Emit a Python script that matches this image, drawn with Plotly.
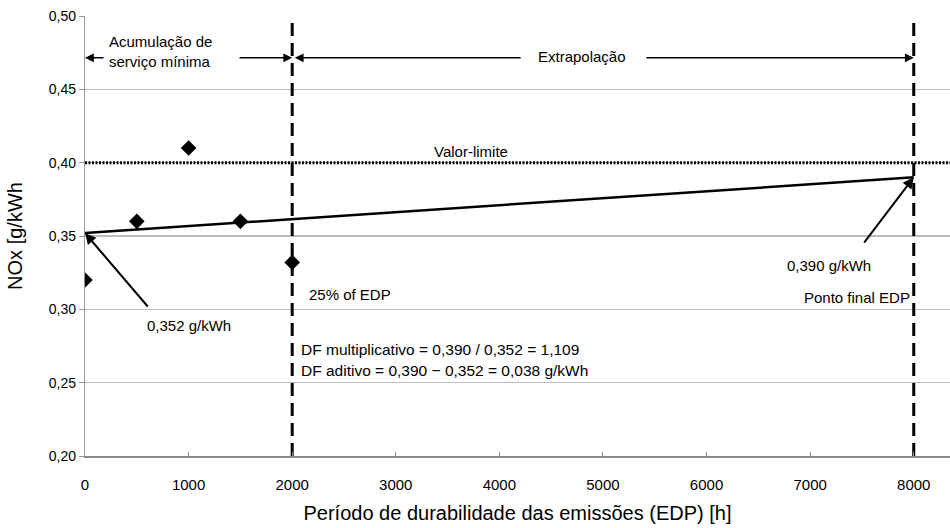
import plotly.graph_objects as go

# ---- data ----
test_hours = [0, 500, 1000, 1500, 2000]
nox_values = [0.320, 0.360, 0.410, 0.360, 0.332]

trend_hours = [0, 8000]
trend_values = [0.352, 0.390]

limit_value = 0.40
limit_span = [0, 8350]

marker_hours = [2000, 8000]
y_span = [0.20, 0.50]

x_ticks = [0, 1000, 2000, 3000, 4000, 5000, 6000, 7000, 8000]
y_ticks = [0.20, 0.25, 0.30, 0.35, 0.40, 0.45, 0.50]

FONT = "Liberation Sans, Arial, Helvetica, sans-serif"
NARROW = "Liberation Sans Narrow, Liberation Sans, Arial, sans-serif"

fig = go.Figure()

# limit line (dotted)
fig.add_trace(go.Scatter(x=limit_span, y=[limit_value, limit_value], mode="lines",
                         line=dict(color="black", width=3, dash="2px,1.5px"),
                         hoverinfo="skip", showlegend=False))

# vertical dashed lines
for h in marker_hours:
    fig.add_trace(go.Scatter(x=[h, h], y=y_span, mode="lines",
                             line=dict(color="black", width=3, dash="13px,7px"),
                             hoverinfo="skip", showlegend=False))

# trend line
fig.add_trace(go.Scatter(x=trend_hours, y=trend_values, mode="lines",
                         line=dict(color="black", width=2.5),
                         showlegend=False))

# measured points
fig.add_trace(go.Scatter(x=test_hours, y=nox_values, mode="markers",
                         marker=dict(symbol="diamond", size=12, color="black"),
                         showlegend=False))

ann = []
def txt(x, y, t, xanchor="center", align="center", size=15):
    ann.append(dict(x=x, y=y, xref="x", yref="y", text=t, showarrow=False,
                    xanchor=xanchor, yanchor="middle", align=align,
                    font=dict(family=FONT, size=size, color="black")))

def arrow(x, y, ax, ay, w=1.6):
    ann.append(dict(x=x, y=y, ax=ax, ay=ay, xref="x", yref="y", axref="x", ayref="y",
                    text="", showarrow=True, arrowhead=2, arrowsize=1.1, arrowwidth=w,
                    arrowcolor="black", standoff=0, startstandoff=0))

arrow_y = 0.4715
txt(212, 0.4755, "Acumulação de<br>serviço mínima", xanchor="left", align="left")
arrow(0, arrow_y, 193, arrow_y)
arrow(2000, arrow_y, 1477, arrow_y)
arrow(2025, arrow_y, 4220, arrow_y)
arrow(8000, arrow_y, 5405, arrow_y)
txt(4800, 0.4725, "Extrapolação")

txt(3730, 0.4077, "Valor-limite")

arrow(0, trend_values[0], 618, 0.3009, w=2)
txt(1004, 0.2893, "0,352 g/kWh")

arrow(8000, trend_values[1], 7510, 0.3445, w=2)
txt(7181, 0.3302, "0,390 g/kWh")

txt(2558, 0.3098, "25% of EDP")
txt(7985, 0.3084, "Ponto final EDP", xanchor="right")

txt(2066, 0.2723, "DF multiplicativo = 0,390 / 0,352 = 1,109", xanchor="left", size=15.5)
txt(2066, 0.2586, "DF aditivo = 0,390 − 0,352 = 0,038 g/kWh", xanchor="left", size=15.5)

fig.update_layout(
    width=950, height=528,
    margin=dict(l=85, r=0, t=16, b=72, autoexpand=False),
    paper_bgcolor="white", plot_bgcolor="white",
    separators=",.",
    annotations=ann,
    showlegend=False,
    hovermode=False,
    font=dict(family=FONT, color="black"),
)

fig.update_xaxes(
    range=[0, 8350], tickvals=x_ticks, tickformat="d",
    showgrid=False, zeroline=False, automargin=False,
    showline=True, linecolor="#888", linewidth=1.5,
    ticks="inside", ticklen=4, tickcolor="#888",
    tickfont=dict(family=NARROW, size=15, color="black"),
    ticklabelstandoff=14,
    title=dict(text="Período de durabilidade das emissões (EDP) [h]",
               font=dict(family=FONT, size=20, color="black"), standoff=14),
)

fig.update_yaxes(
    range=[0.20, 0.50], tickvals=y_ticks, tickformat=".2f",
    showgrid=True, gridcolor="#bdbdbd", gridwidth=1.2, zeroline=False, automargin=False,
    showline=True, linecolor="#999", linewidth=1.2,
    ticks="outside", ticklen=5, tickcolor="#999",
    tickfont=dict(family=FONT, size=14, color="black"),
    title=dict(text="NOx [g/kWh", font=dict(family=FONT, size=20, color="black"), standoff=20),
)

# remove the default 8px page margin so the figure sits at the window's top-left corner
fig.write_html("out.html",
               config={"displayModeBar": False, "staticPlot": True},
               post_script="document.body.style.margin='0';document.body.style.overflow='hidden';")
